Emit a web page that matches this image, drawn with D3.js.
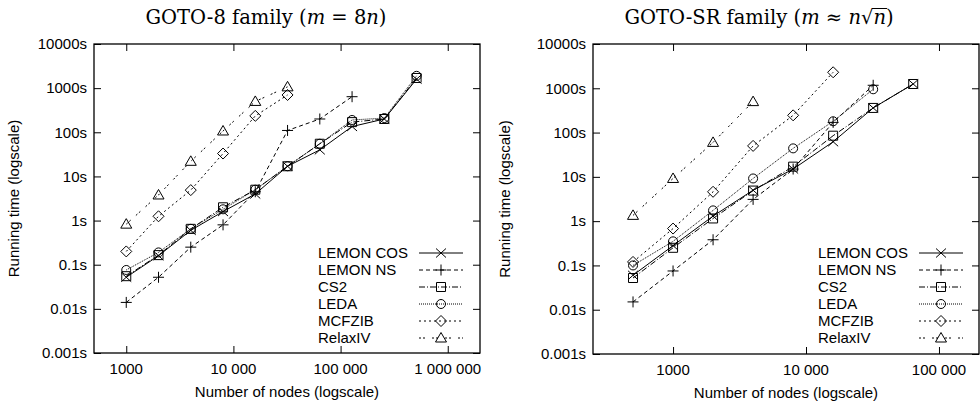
<!DOCTYPE html>
<html>
<head>
<meta charset="utf-8">
<script src="https://cdn.jsdelivr.net/npm/d3@7/dist/d3.min.js"></script>
<style>
  body { margin: 0; background: #fff; }
  svg { display: block; }
  text { font-family: "Liberation Sans", Arial, sans-serif; fill: #000; }
</style>
</head>
<body>
<svg width="980" height="407"></svg>
<script>
// data (running time in seconds)
var seriesNames = ["LEMON COS", "LEMON NS", "CS2", "LEDA", "MCFZIB", "RelaxIV"];

var goto8Nodes = [1000, 2000, 4000, 8000, 16000, 32000, 64000, 128000, 256000, 512000];
var goto8Cos    = [0.052, 0.16, 0.6, 1.6, 4.0, 17, 40, 135, 200, 1600];
var goto8Ns     = [0.014, 0.052, 0.25, 0.8, 4.5, 110, 200, 640];
var goto8Cs2    = [0.055, 0.165, 0.65, 2.0, 5.0, 17, 55, 170, 200, 1700];
var goto8Leda   = [0.076, 0.19, 0.65, 1.8, 5.0, 17, 55, 190, 210, 1900];
var goto8Mcfzib = [0.2, 1.25, 4.9, 33, 235, 700];
var goto8Relax  = [0.83, 3.8, 22, 107, 500, 1070];

var gotoSrNodes = [500, 1000, 2000, 4000, 8000, 16000, 32000, 64000];
var gotoSrCos    = [0.06, 0.28, 1.3, 5.0, 15, 62, 360, 1250];
var gotoSrNs     = [0.015, 0.075, 0.38, 3.1, 15, 170, 1170];
var gotoSrCs2    = [0.052, 0.25, 1.15, 4.9, 17, 85, 360, 1250];
var gotoSrLeda   = [0.1, 0.35, 1.75, 9.2, 44, 180, 950];
var gotoSrMcfzib = [0.12, 0.68, 4.6, 50, 245, 2300];
var gotoSrRelax  = [1.35, 9.2, 60, 500];

var yTickValues = [0.001, 0.01, 0.1, 1, 10, 100, 1000, 10000];
var yTickLabels = ["0.001s", "0.01s", "0.1s", "1s", "10s", "100s", "1000s", "10000s"];
var goto8XTicks = [1000, 10000, 100000, 1000000];
var goto8XLabels = ["1000", "10 000", "100 000", "1 000 000"];
var gotoSrXTicks = [1000, 10000, 100000];
var gotoSrXLabels = ["1000", "10 000", "100 000"];

// line style and point type for each series (gnuplot look)
var dashes = [null, "4,3", "6,2,1,2", "1,1", "2,3", "2,2,2,7"];
var marks = [
  "M-5,-4.5L5,4.5M-5,4.5L5,-4.5",
  "M-5.5,0H5.5M0,-5.5V5.5",
  "M-4.5,-4.5h9v9h-9z",
  "circle",
  "M0,-5.5L5.5,0L0,5.5L-5.5,0Z",
  "M0,-5.5L5.5,4H-5.5Z"
];
var fs = "15px";

var svg = d3.select("svg");

function drawPanel(p) {
  var x = d3.scaleLog().domain(p.xDomain).range([p.left, p.right]);
  var y = d3.scaleLog().domain([0.001, 10000]).range([p.bottom, p.top]);
  var g = svg.append("g");

  // ticks inside, mirrored
  var ticksL = d3.axisRight(y).tickValues(yTickValues).tickSize(7).tickFormat("");
  var ticksR = d3.axisLeft(y).tickValues(yTickValues).tickSize(7).tickFormat("");
  var ticksB = d3.axisTop(x).tickValues(p.xTicks).tickSize(7).tickFormat("");
  var ticksT = d3.axisBottom(x).tickValues(p.xTicks).tickSize(7).tickFormat("");
  g.append("g").attr("transform", "translate(" + p.left + ",0)").call(ticksL);
  g.append("g").attr("transform", "translate(" + p.right + ",0)").call(ticksR);
  g.append("g").attr("transform", "translate(0," + p.bottom + ")").call(ticksB);
  g.append("g").attr("transform", "translate(0," + p.top + ")").call(ticksT);
  g.selectAll(".domain").remove();
  g.selectAll(".tick line").attr("stroke", "#000");

  g.append("rect")
    .attr("x", p.left).attr("y", p.top)
    .attr("width", p.right - p.left).attr("height", p.bottom - p.top)
    .attr("fill", "none").attr("stroke", "#000").attr("stroke-width", 1.3);

  g.selectAll(".ylab").data(yTickValues).enter().append("text")
    .attr("x", p.left - 7).attr("y", function(d) { return y(d); })
    .attr("dy", "0.35em").attr("text-anchor", "end")
    .style("font-size", fs)
    .text(function(d, i) { return yTickLabels[i]; });

  g.selectAll(".xlab").data(p.xTicks).enter().append("text")
    .attr("x", function(d) { return x(d); }).attr("y", p.bottom + 21)
    .attr("text-anchor", "middle")
    .style("font-size", fs)
    .text(function(d, i) { return p.xLabels[i]; });

  g.append("text")
    .attr("x", (p.left + p.right) / 2).attr("y", p.bottom + 44)
    .attr("text-anchor", "middle").style("font-size", fs)
    .text("Number of nodes (logscale)");

  g.append("text")
    .attr("transform", "translate(" + p.yLabelX + "," + ((p.top + p.bottom) / 2) + ") rotate(-90)")
    .attr("text-anchor", "middle").style("font-size", fs)
    .text("Running time (logscale)");

  var line = d3.line()
    .x(function(d) { return x(d[0]); })
    .y(function(d) { return y(d[1]); });

  p.series.forEach(function(vals, i) {
    var pts = vals.map(function(v, k) { return [p.nodes[k], v]; });
    g.append("path")
      .attr("d", line(pts))
      .attr("fill", "none").attr("stroke", "#000").attr("stroke-width", 1)
      .attr("stroke-dasharray", dashes[i]);
    pts.forEach(function(d) { drawMark(g, i, x(d[0]), y(d[1])); });
  });

  // legend
  seriesNames.forEach(function(name, i) {
    var ly = p.legendY + i * 17;
    g.append("text")
      .attr("x", p.legendX).attr("y", ly).attr("dy", "0.35em")
      .style("font-size", fs).text(name);
    g.append("line")
      .attr("x1", p.legendX + 101).attr("x2", p.legendX + 145)
      .attr("y1", ly).attr("y2", ly)
      .attr("stroke", "#000").attr("stroke-width", 1)
      .attr("stroke-dasharray", dashes[i]);
    drawMark(g, i, p.legendX + 123, ly);
  });
}

function drawMark(g, i, cx, cy) {
  if (marks[i] == "circle") {
    g.append("circle").attr("cx", cx).attr("cy", cy).attr("r", 4.5)
      .attr("fill", "none").attr("stroke", "#000");
  } else {
    g.append("path").attr("d", marks[i])
      .attr("transform", "translate(" + cx + "," + cy + ")")
      .attr("fill", "none").attr("stroke", "#000");
  }
}

drawPanel({
  left: 94, right: 480, top: 44, bottom: 353,
  xDomain: [500, 2000000], xTicks: goto8XTicks, xLabels: goto8XLabels,
  nodes: goto8Nodes,
  series: [goto8Cos, goto8Ns, goto8Cs2, goto8Leda, goto8Mcfzib, goto8Relax],
  legendX: 318, legendY: 253, yLabelX: 19
});

drawPanel({
  left: 593, right: 979, top: 44, bottom: 354,
  xDomain: [250, 200000], xTicks: gotoSrXTicks, xLabels: gotoSrXLabels,
  nodes: gotoSrNodes,
  series: [gotoSrCos, gotoSrNs, gotoSrCs2, gotoSrLeda, gotoSrMcfzib, gotoSrRelax],
  legendX: 818, legendY: 253, yLabelX: 510
});

// titles (serif, math in italic)
var serif = "'DejaVu Serif', 'Liberation Serif', serif";
var t1 = svg.append("text").attr("x", 266).attr("y", 24)
  .attr("text-anchor", "middle").style("font-family", serif).style("font-size", "19.5px");
t1.append("tspan").text("GOTO-8 family (");
t1.append("tspan").style("font-style", "italic").text("m");
t1.append("tspan").text(" = 8");
t1.append("tspan").style("font-style", "italic").text("n");
t1.append("tspan").text(")");

var t2 = svg.append("text").attr("x", 759).attr("y", 24)
  .attr("text-anchor", "middle").style("font-family", serif).style("font-size", "19.5px");
t2.append("tspan").text("GOTO-SR family (");
t2.append("tspan").style("font-style", "italic").text("m");
t2.append("tspan").text(" \u2248 ");
t2.append("tspan").style("font-style", "italic").text("n");
t2.append("tspan").text("\u221A");
t2.append("tspan").style("font-style", "italic").text("n");
t2.append("tspan").text(")");

// overline of the square root
var full = "GOTO-SR family (m \u2248 n\u221An)";
var rootIdx = full.indexOf("\u221A");
var rootBox = t2.node().getExtentOfChar(rootIdx);
var nBox = t2.node().getExtentOfChar(rootIdx + 1);
svg.append("line")
  .attr("x1", rootBox.x + rootBox.width - 1).attr("x2", nBox.x + nBox.width + 1)
  .attr("y1", 24 - 15.5).attr("y2", 24 - 15.5)
  .attr("stroke", "#000").attr("stroke-width", 1);
</script>
</body>
</html>
